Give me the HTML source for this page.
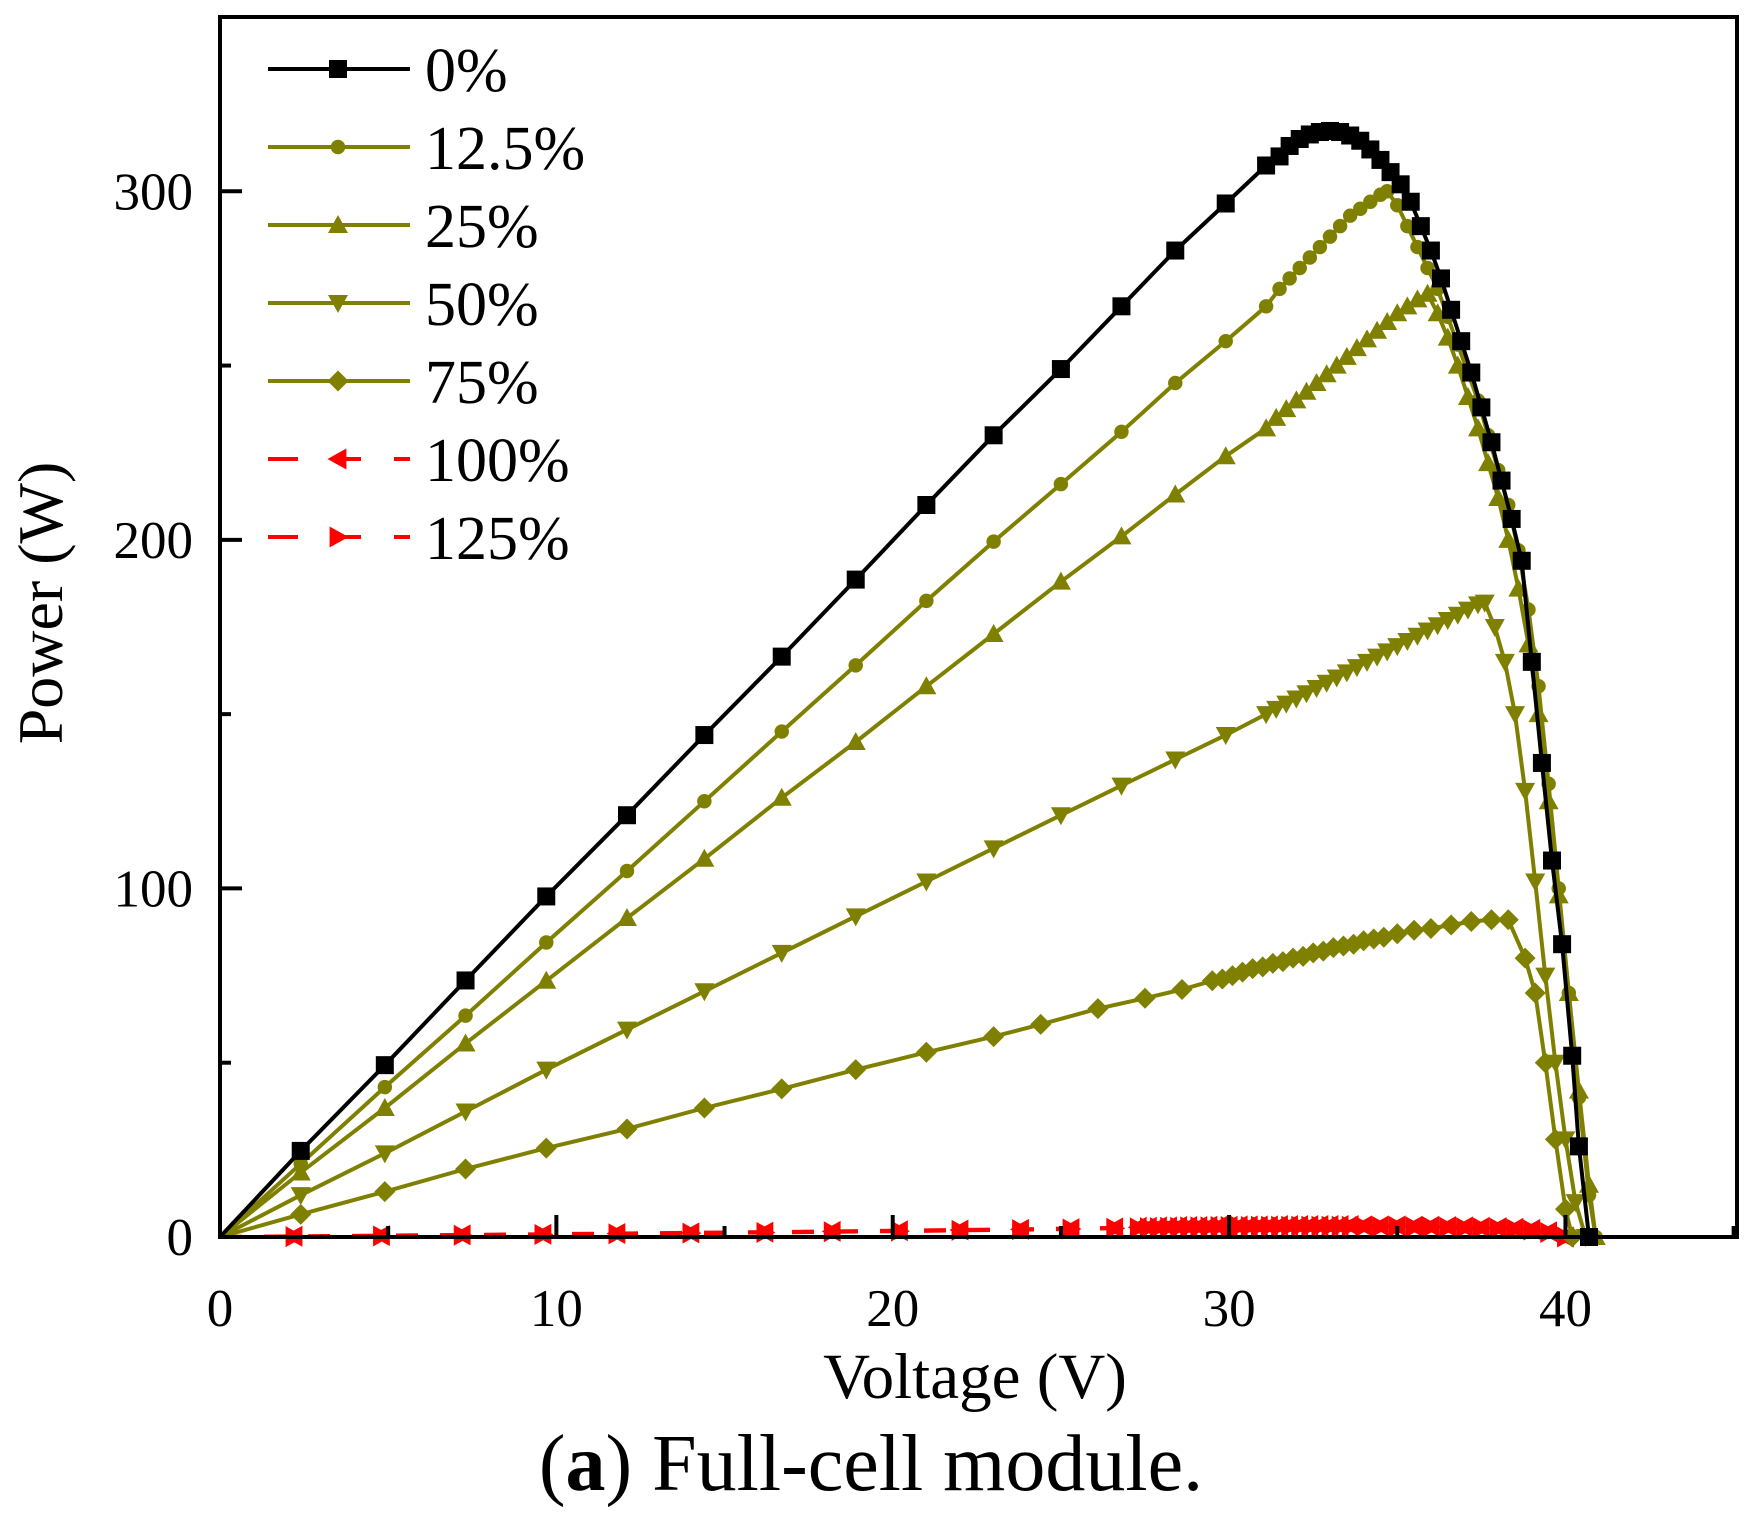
<!DOCTYPE html>
<html><head><meta charset="utf-8"><style>
html,body{margin:0;padding:0;background:#fff;}
svg{display:block;font-family:"Liberation Serif",serif;}
</style></head><body>
<svg id="chart" width="1744" height="1519" viewBox="0 0 1744 1519" xmlns="http://www.w3.org/2000/svg">
<rect x="0" y="0" width="1744" height="1519" fill="#fff"/>
<g id="series"></g>
<rect x="220" y="17" width="1517" height="1220" fill="none" stroke="#000" stroke-width="4"/>
<g id="axes"></g>
<g id="legend"></g>
<text x="62" y="603" transform="rotate(-90 62 603)" text-anchor="middle" font-size="64">Power (W)</text>
<text x="975" y="1398" text-anchor="middle" font-size="65">Voltage (V)</text>
<text x="871" y="1490" text-anchor="middle" font-size="80" font-family="Liberation Serif, serif">(<tspan font-weight="bold">a</tspan>) Full-cell module.</text>
</svg>
<script>
// ---- data ----
const xTicks = [0, 10, 20, 30, 40];
const yTicks = [0, 100, 200, 300];
const xMinor = [5, 15, 25, 35, 45];
const yMinor = [50, 150, 250, 350];
const seriesNames = ["0%", "12.5%", "25%", "50%", "75%", "100%", "125%"];

const v0 = [0,2.4,4.9,7.3,9.7,12.1,14.4,16.7,18.9,21,23,25,26.8,28.4,29.9,31.1,31.5,31.8,32.1,32.4,32.7,33.0,33.3,33.6,33.9,34.2,34.5,34.8,35.1,35.4,35.7,36.0,36.3,36.6,36.9,37.2,37.5,37.8,38.1,38.4,38.7,39.0,39.3,39.6,39.9,40.2,40.4,40.7];
const p0 = [0,24.7,49.3,73.6,97.7,121,144,166.5,188.6,210,230,249,267,283,296.5,307.4,310,313,315,316.3,317,317.3,317,316,314.5,312,309,305.5,302,297,290,283,275,266,257,248,238,228,217,206,194,165,136,108,84,52,26,0];

const v125 = [0,2.4,4.9,7.3,9.7,12.1,14.4,16.7,18.9,21,23,25,26.8,28.4,29.9,31.1,31.5,31.8,32.1,32.4,32.7,33.0,33.3,33.6,33.9,34.2,34.5,34.7,35.0,35.3,35.6,35.9,36.2,36.5,36.8,37.1,37.4,37.7,38.0,38.3,38.6,38.9,39.2,39.5,39.8,40.1,40.4,40.7,40.9];
const p125 = [0,21,43,63.5,84.5,105,125,145,164,182.5,199.5,216,231,245,257,267,272,275,278,281,284,287,290,293,295,297,299,300,296,290,284,278,272,264,256,248,240,230,220,210,197,180,158,130,100,70,40,12,0];

const v25 = [0,2.4,4.9,7.3,9.7,12.1,14.4,16.7,18.9,21,23,25,26.8,28.4,29.9,31.1,31.4,31.7,32.0,32.3,32.6,32.9,33.2,33.5,33.8,34.1,34.4,34.7,35.0,35.3,35.6,35.9,36.2,36.5,36.8,37.1,37.4,37.7,38.0,38.3,38.6,38.9,39.2,39.5,39.8,40.1,40.4,40.7,40.9];
const p25 = [0,18.5,37,55.5,73.5,91.5,108.5,126,142,158,173,188,201,213,224,232,235,237.5,240,242.5,245,247.5,250,252.5,255,257.5,260,262.5,265,267,269,270.6,265,258,250,241,232,222,212,200,186,170,150,125,98,70,42,15,0];

const v50 = [0,2.4,4.9,7.3,9.7,12.1,14.4,16.7,18.9,21,23,25,26.8,28.4,29.9,31.1,31.4,31.7,32.0,32.3,32.6,32.9,33.2,33.5,33.8,34.1,34.4,34.7,35.0,35.3,35.6,35.9,36.2,36.5,36.8,37.1,37.4,37.6,37.9,38.2,38.5,38.8,39.1,39.4,39.7,40.0,40.3,40.6];
const p50 = [0,12,24,36,48,59.5,70.5,81.5,92,102,111.5,121,129.5,137,144,150,151.5,153,154.5,156,157.5,159,160.5,162,163.5,165,166.5,168,169.5,171,172.5,174,175.5,177,178.5,180,181.5,182,175,165,150,128,102,75,50,28,10,0];

const v75 = [0,2.4,4.9,7.3,9.7,12.1,14.4,16.7,18.9,21,23,24.4,26.1,27.5,28.6,29.5,29.8,30.1,30.4,30.7,31.0,31.3,31.6,31.9,32.2,32.5,32.8,33.1,33.4,33.7,34.0,34.3,34.6,35.0,35.5,36.0,36.6,37.2,37.8,38.3,38.8,39.1,39.4,39.7,40.0,40.2];
const p75 = [0,6.5,13,19.5,25.5,31,37,42.5,48,53,57.5,61,65.5,68.5,71,73.5,74,75,76,77,77.5,78.5,79,80,80.5,81.5,82,83,83.5,84,85,85.5,86,87,88,88.5,89.5,90.5,91,91,80,70,50,28,8,0];

const v100 = [0,2.2,4.8,7.2,9.6,11.8,14,16.2,18.2,20.2,22,23.8,25.3,26.6,27.3,27.6,27.9,28.2,28.5,28.8,29.1,29.4,29.7,30.0,30.3,30.6,30.9,31.2,31.5,31.8,32.1,32.4,32.7,33.0,33.3,33.6,34.0,34.5,35.0,35.5,36.0,36.5,37.0,37.5,38.0,38.5,39.0,39.5,40.0];
const p100 = [0,0.2,0.4,0.6,0.8,1.0,1.2,1.4,1.6,1.8,2.0,2.2,2.4,2.6,2.8,2.8,2.9,2.9,3.0,3.0,3.0,3.1,3.1,3.1,3.2,3.2,3.2,3.2,3.3,3.3,3.3,3.3,3.3,3.3,3.3,3.3,3.2,3.2,3.2,3.1,3.1,3.0,2.9,2.8,2.7,2.5,2.2,1.5,0];
const v125b = [0,2.2,4.8,7.2,9.6,11.8,14,16.2,18.2,20.2,22,23.8,25.3,26.6,27.3,27.6,27.9,28.2,28.5,28.8,29.1,29.4,29.7,30.0,30.3,30.6,30.9,31.2,31.5,31.8,32.1,32.4,32.7,33.0,33.3,33.6,34.0,34.5,35.0,35.5,36.0,36.5,37.0,37.5,38.0,38.5,39.0,39.5,40.0];
const p125b = [0,0.1,0.3,0.5,0.7,0.9,1.1,1.3,1.5,1.7,1.9,2.1,2.3,2.5,2.6,2.7,2.7,2.8,2.8,2.9,2.9,2.9,3.0,3.0,3.0,3.0,3.1,3.1,3.1,3.1,3.1,3.1,3.1,3.1,3.1,3.1,3.0,3.0,3.0,2.9,2.9,2.8,2.7,2.6,2.5,2.3,2.0,1.3,0];

// ---- axes functions ----
const X0 = 220, X1 = 1737, Y0 = 1237, Y1 = 17, XMAX = 45.1, YMAX = 350;
function xs(v){ return X0 + v / XMAX * (X1 - X0); }
function ys(p){ return Y0 - p / YMAX * (Y0 - Y1); }
const NS = "http://www.w3.org/2000/svg";
function mk(tag, attrs, parent){
  const e = document.createElementNS(NS, tag);
  for (const k in attrs) e.setAttribute(k, attrs[k]);
  parent.appendChild(e); return e;
}
const axes = document.getElementById('axes');
xTicks.forEach(t => {
  const l = mk('line', {x1: xs(t), x2: xs(t), y1: Y0, y2: Y0 - 22, stroke: '#000', 'stroke-width': 4}, axes);
  
  
  const tx = mk('text', {x: xs(t), y: 1326, 'text-anchor': 'middle', 'font-size': 53}, axes);
  tx.textContent = t;
  
  
});
xMinor.forEach(t => {
  const l = mk('line', {x1: xs(t), x2: xs(t), y1: Y0, y2: Y0 - 11, stroke: '#000', 'stroke-width': 4}, axes);
  
  
});
yTicks.forEach(t => {
  const l = mk('line', {x1: X0, x2: X0 + 22, y1: ys(t), y2: ys(t), stroke: '#000', 'stroke-width': 4}, axes);
  
  
  const tx = mk('text', {x: 193, y: ys(t) + 18, 'text-anchor': 'end', 'font-size': 53}, axes);
  tx.textContent = t;
  
  
});
yMinor.forEach(t => {
  const l = mk('line', {x1: X0, x2: X0 + 11, y1: ys(t), y2: ys(t), stroke: '#000', 'stroke-width': 4}, axes);
  
  
});

// ---- markers ----
function marker(type, cx, cy, s, color, parent){
  const h = s / 2; let e;
  if (type === 'square') e = mk('rect', {x: cx - h, y: cy - h, width: s, height: s, fill: color}, parent);
  else if (type === 'circle') e = mk('circle', {cx: cx, cy: cy, r: h * 0.85, fill: color}, parent);
  else {
    let pts;
    if (type === 'up') pts = [[cx, cy - h], [cx + h, cy + h * 0.8], [cx - h, cy + h * 0.8]];
    else if (type === 'down') pts = [[cx, cy + h], [cx + h, cy - h * 0.8], [cx - h, cy - h * 0.8]];
    else if (type === 'diamond') pts = [[cx, cy - h], [cx + h, cy], [cx, cy + h], [cx - h, cy]];
    else if (type === 'left') pts = [[cx - h, cy], [cx + h * 0.8, cy - h], [cx + h * 0.8, cy + h]];
    else pts = [[cx + h, cy], [cx - h * 0.8, cy - h], [cx - h * 0.8, cy + h]];
    e = mk('polygon', {points: pts.map(p => p.join(',')).join(' '), fill: color}, parent);
  }
  return e;
}

const OLIVE = '#808000';
const specs = [
  {vs: v0, ps: p0, color: '#000', m: 'square', size: 18, dash: null},
  {vs: v125, ps: p125, color: OLIVE, m: 'circle', size: 17, dash: null},
  {vs: v25, ps: p25, color: OLIVE, m: 'up', size: 20, dash: null},
  {vs: v50, ps: p50, color: OLIVE, m: 'down', size: 20, dash: null},
  {vs: v75, ps: p75, color: OLIVE, m: 'diamond', size: 21, dash: null},
  {vs: v100, ps: p100, color: '#ff0000', m: 'left', size: 21, dash: '22,22'},
  {vs: v125b, ps: p125b, color: '#ff0000', m: 'right', size: 21, dash: '22,22'}
];
const sl = document.getElementById('series');
specs.slice().reverse().forEach((s, ri) => {
  const idx = specs.length - 1 - ri;
  const g = mk('g', {}, sl);
  
  
  const d = s.vs.map((v, i) => (i ? 'L' : 'M') + xs(v).toFixed(1) + ',' + ys(s.ps[i]).toFixed(1)).join(' ');
  const path = mk('path', {d: d, fill: 'none', stroke: s.color, 'stroke-width': 4, 'stroke-linejoin': 'round'}, g);
  if (s.dash) path.setAttribute('stroke-dasharray', s.dash);
  
  
  s.vs.forEach((v, i) => {
    if (i === 0) return;
    const m = marker(s.m, xs(v), ys(s.ps[i]), s.size, s.color, g);
    
    
  });
});

// ---- legend ----
const lg = document.getElementById('legend');
specs.forEach((s, i) => {
  const y = 69 + i * 78;
  const g = mk('g', {}, lg);
  
  
  const l = mk('line', {x1: 268, x2: 410, y1: y, y2: y, stroke: s.color, 'stroke-width': 4}, g);
  if (s.dash) l.setAttribute('stroke-dasharray', '30,33');
  
  
  const m = marker(s.m, 338, y, s.size, s.color, g);
  
  
  const t = mk('text', {x: 425, y: y + 22, 'font-size': 62}, g);
  t.textContent = seriesNames[i];
  
  
});
</script>
</body></html>
